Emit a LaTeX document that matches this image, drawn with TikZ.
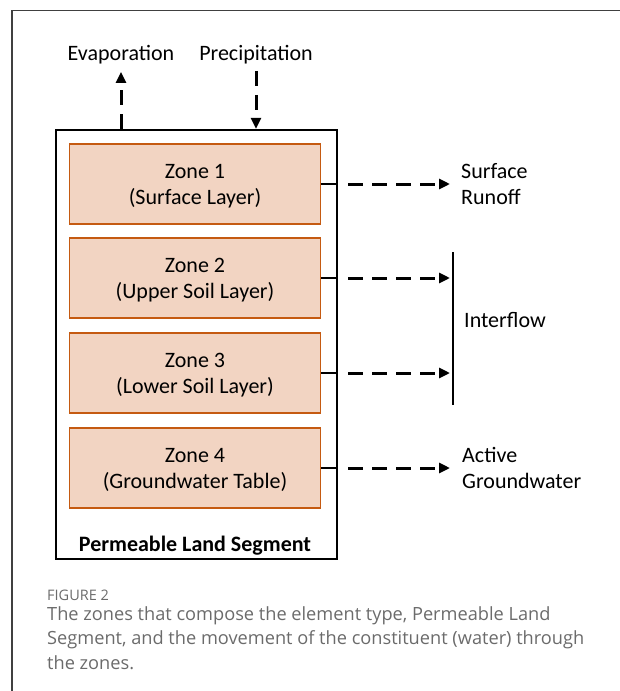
\documentclass[tikz,border=0pt]{standalone}
\usepackage{fontspec}
\setmainfont{Carlito}
\newfontfamily\captionfont{Open Sans}
\usetikzlibrary{arrows.meta,positioning}
\definecolor{zonefill}{RGB}{242,212,194}
\definecolor{zoneline}{RGB}{197,90,17}
\colorlet{framegray}{black!75}
\colorlet{captiongray}{black!58}

\begin{document}
\begin{tikzpicture}[x=1bp,y=-1bp,font=\fontsize{22bp}{26bp}\selectfont]
\useasboundingbox (0,0) rectangle (620,691);
\draw[framegray, line width=1.3bp] (12,691) -- (12,10.5) -- (620,10.5);
\tikzset{SegStyle/.style ={draw, line width=2.4bp, minimum width=281bp, minimum height=429bp, inner sep=0}}
\node[SegStyle] (seg) at (196.5,344.5) {};
\tikzset{ZoneStyle/.style ={draw=zoneline, fill=zonefill, line width=1.5bp, minimum width=251bp, minimum height=80bp, align=center, inner sep=0, text depth=0bp}}
\node[ZoneStyle] (z1) at (195,184) {Zone 1\\(Surface Layer)};
\node[ZoneStyle] (z2) at (195,278) {Zone 2\\(Upper Soil Layer)};
\node[ZoneStyle] (z3) at (195,373) {Zone 3\\(Lower Soil Layer)};
\node[ZoneStyle] (z4) at (195,468) {Zone 4\\(Groundwater Table)};
\node[font=\fontsize{22bp}{26bp}\selectfont\bfseries] (segname) at (195,546) {Permeable Land Segment};
\node (evap) at (121,55) {Evaporation};
\node (precip) at (256,55) {Precipitation};
\coordinate (e1) at (450,184);
\coordinate (e2) at (450,278);
\coordinate (e3) at (450,373);
\coordinate (e4) at (450,468);
\coordinate (bartop) at (453,252);
\coordinate (barbot) at (453,405);
\tikzset{LabelStyle/.style ={anchor=west, align=left, inner sep=0, text depth=0bp}}
\node[LabelStyle, right=11bp of e1] (runoff) {Surface\\Runoff};
\node[LabelStyle] (interflow) at (464,320) {Interflow};
\node[LabelStyle, right=12bp of e4] (active) {Active\\Groundwater};
\tikzset{StubStyle/.style ={line width=2.4bp}}
\tikzset{FlowStyle/.style ={-{Triangle[length=11bp,width=10bp]}, line width=3bp, dash pattern=on 15bp off 9bp}}
\draw[StubStyle] (z1.east) -- (z1.east -| seg.east);
\draw[StubStyle] (z2.east) -- (z2.east -| seg.east);
\draw[StubStyle] (z3.east) -- (z3.east -| seg.east);
\draw[StubStyle] (z4.east) -- (z4.east -| seg.east);
\draw[FlowStyle, shorten <=10bp] (z1.east -| seg.east) -- (e1);
\draw[FlowStyle, shorten <=10bp] (z2.east -| seg.east) -- (e2);
\draw[FlowStyle, shorten <=10bp] (z3.east -| seg.east) -- (e3);
\draw[FlowStyle, shorten <=10bp] (z4.east -| seg.east) -- (e4);
\draw[line width=1.3bp] (bartop) -- (barbot);
\draw[FlowStyle, shorten >=4bp] (seg.north -| evap.south) -- (evap.south);
\draw[FlowStyle, shorten <=3bp] (precip.south) -- (seg.north -| precip.south);
\node[anchor=west, inner sep=0, captiongray, font=\captionfont\fontsize{14.5bp}{17bp}\selectfont] (figlabel) at (47,595) {FIGURE 2};
\node[anchor=north west, align=left, inner sep=0, captiongray, font=\captionfont\fontsize{18.2bp}{24.5bp}\selectfont] (caption) at (47,606) {The zones that compose the element type, Permeable Land\\Segment, and the movement of the constituent (water) through\\the zones.};
\end{tikzpicture}
\end{document}
